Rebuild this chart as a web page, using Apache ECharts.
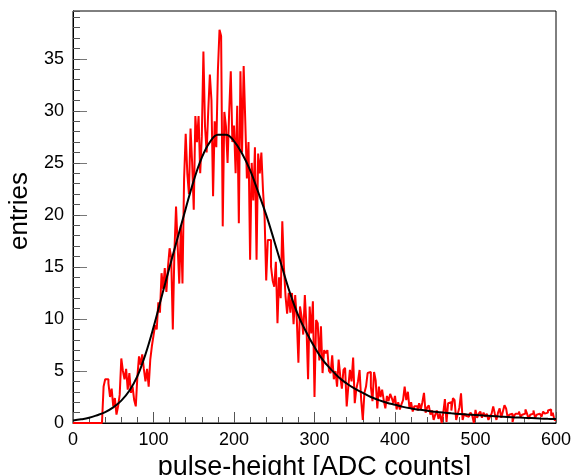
<!DOCTYPE html>
<html>
<head>
<meta charset="utf-8">
<script src="https://cdn.jsdelivr.net/npm/echarts@6/dist/echarts.min.js"></script>
<style>
html,body{margin:0;padding:0;background:#fff;}
#chart{width:575px;height:475px;}
</style>
</head>
<body>
<div id="chart"></div>
<script>
// Histogram: 300 bins, width 2 ADC counts, from 0 to 600
const binStart = 0;
const binWidth = 2;
const counts = [
  0,0,0,0,0,0,0,0,0,0,
  0,0,0,0,0,0,0,0,0,3.5,
  4.2,4.2,3.8,2.5,3.3,1.6,2.4,0.8,1.6,2.7,
  6.2,5.0,4.2,5.2,3.2,4.8,2.9,3.5,2.2,1.6,
  4.5,6.4,5.6,6.6,5.2,4.0,5.2,3.5,6.1,7.4,
  8.4,9.4,9.0,11.6,10.6,14.4,12.9,14.9,12.6,15.0,
  16.8,15.9,9.0,16.5,20.8,17.0,13.4,19.0,13.4,23.5,
  27.8,24.0,22.0,28.3,25.0,20.5,29.5,27.0,29.5,24.0,
  27.5,35.7,28.5,26.0,30.0,33.5,31.0,21.8,29.0,26.5,
  33.9,37.8,37.2,18.9,29.9,28.5,25.0,29.9,33.8,27.0,
  28.6,24.0,30.5,19.2,33.8,26.0,34.3,29.0,23.5,27.0,
  15.7,25.0,21.4,26.5,15.7,25.9,24.0,26.0,22.4,19.8,
  13.7,17.6,17.6,15.0,13.7,13.1,15.5,9.6,14.0,12.0,
  19.4,15.0,12.2,10.5,12.5,10.6,12.5,9.5,12.3,10.0,
  5.8,11.2,10.2,8.5,12.3,9.3,4.2,11.2,8.6,11.7,
  2.5,9.9,9.6,6.0,9.3,4.8,7.0,6.7,7.0,5.0,
  4.8,6.5,4.2,5.0,3.5,6.1,4.5,3.3,5.1,5.3,
  1.6,3.5,5.1,4.0,6.3,1.9,3.3,4.0,5.1,2.2,
  0.3,2.9,3.5,4.8,4.9,3.5,2.1,4.9,4.1,1.4,
  3.5,2.5,3.2,2.2,1.4,2.6,2.1,2.8,2.4,1.9,
  2.6,1.3,2.0,1.3,1.8,2.2,3.5,2.2,3.0,1.4,
  2.0,1.1,1.6,1.6,1.2,1.9,1.3,2.0,2.9,1.0,
  1.5,1.7,0.8,1.2,0.3,0.8,1.2,0.4,0.9,0,
  1.0,2.3,0.1,1.9,2.0,1.2,2.4,2.2,0.3,0.9,
  1.5,2.85,0.3,0.9,0.7,0.6,0.8,1.0,0.7,0,
  1.25,0.5,0.9,1.1,0.5,1.0,0.6,0.9,0.3,0.6,
  0.9,1.6,0.9,0.3,1.0,1.4,0.5,1.1,1.7,1.4,
  0.5,0.8,0.9,0.1,0.7,0.9,0.9,1.1,0.6,0.8,
  0.9,1.3,0.9,0.4,0.8,0.9,1.2,0.5,0.8,0.9,
  1.0,0.6,1.1,0.9,1.0,1.2,1.3,0.7,1.0,0.3
];

// Fit curve sampled every 10 ADC counts from 0 to 600
const fitStep = 10;
const fitValues = [
  0.25,0.35,0.5,0.75,1.05,1.5,2.15,3.1,4.5,6.6,
  9.2,12.1,15.0,17.8,20.6,23.3,25.5,27.0,27.7,27.7,
  27.1,25.9,24.3,22.2,20.0,17.5,14.9,12.4,10.3,8.7,
  7.3,6.1,5.2,4.4,3.8,3.3,2.9,2.5,2.2,1.95,
  1.75,1.55,1.4,1.28,1.17,1.08,1.0,0.93,0.87,0.81,
  0.76,0.71,0.67,0.62,0.58,0.54,0.5,0.47,0.43,0.4,
  0.38
];

const xTicks = [0,100,200,300,400,500,600];
const yTicks = [0,5,10,15,20,25,30,35];
const xTitle = 'pulse-height [ADC counts]';
const yTitle = 'entries';

const histData = counts.map((v,i)=>[binStart + i*binWidth, v]);
histData.push([binStart + counts.length*binWidth, counts[counts.length-1]]);
const fitData = fitValues.map((v,i)=>[i*fitStep, v]);

const FONT = '"Liberation Sans", Arial, Helvetica, sans-serif';
const chart = echarts.init(document.getElementById('chart'), null, {renderer:'canvas'});
chart.setOption({
  animation:false,
  backgroundColor:'#fff',
  grid:{left:73,right:19,top:11,bottom:52,show:true,borderColor:'#000',borderWidth:1,
        backgroundColor:'transparent',containLabel:false,outerBoundsMode:'none'},
  xAxis:{
    type:'value',min:xTicks[0],max:xTicks[xTicks.length-1],interval:100,
    name:xTitle,nameLocation:'middle',nameGap:24,
    nameTextStyle:{fontFamily:FONT,fontSize:27,color:'#000'},
    axisLine:{lineStyle:{color:'#000',width:1}},
    axisTick:{inside:true,length:11,lineStyle:{color:'#555',width:1}},
    minorTick:{show:true,splitNumber:5,length:6,lineStyle:{color:'#555',width:1}},
    splitLine:{show:false},minorSplitLine:{show:false},
    axisLabel:{fontFamily:FONT,fontSize:18,color:'#000',margin:8,
      formatter:v=>xTicks.includes(v)?String(v):''}
  },
  yAxis:[{
    type:'value',min:0,max:39.6,interval:5,
    name:yTitle,nameLocation:'middle',nameGap:40,nameRotate:90,
    nameTextStyle:{fontFamily:FONT,fontSize:26,color:'#000',padding:[0,0,0,12]},
    axisLine:{lineStyle:{color:'#000',width:1}},
    axisTick:{inside:true,length:14,lineStyle:{color:'#777',width:1}},
    splitLine:{show:false},
    axisLabel:{fontFamily:FONT,fontSize:18,color:'#000',margin:9,showMaxLabel:false,
      formatter:v=>yTicks.includes(v)?String(v):''}
  },{
    type:'value',min:0,max:39.6,interval:1,position:'left',
    axisLine:{show:false},
    axisTick:{show:true,inside:true,length:7,lineStyle:{color:'#555',width:1}},
    axisLabel:{show:false},splitLine:{show:false}
  }],
  series:[{
    type:'line',name:'hist',data:histData,step:'end',showSymbol:false,symbol:'none',
    lineStyle:{color:'#ff0000',width:2},z:2
  },{
    type:'line',name:'fit',data:fitData,smooth:0.4,showSymbol:false,symbol:'none',
    lineStyle:{color:'#000',width:2},z:3
  }]
});
</script>
</body>
</html>
